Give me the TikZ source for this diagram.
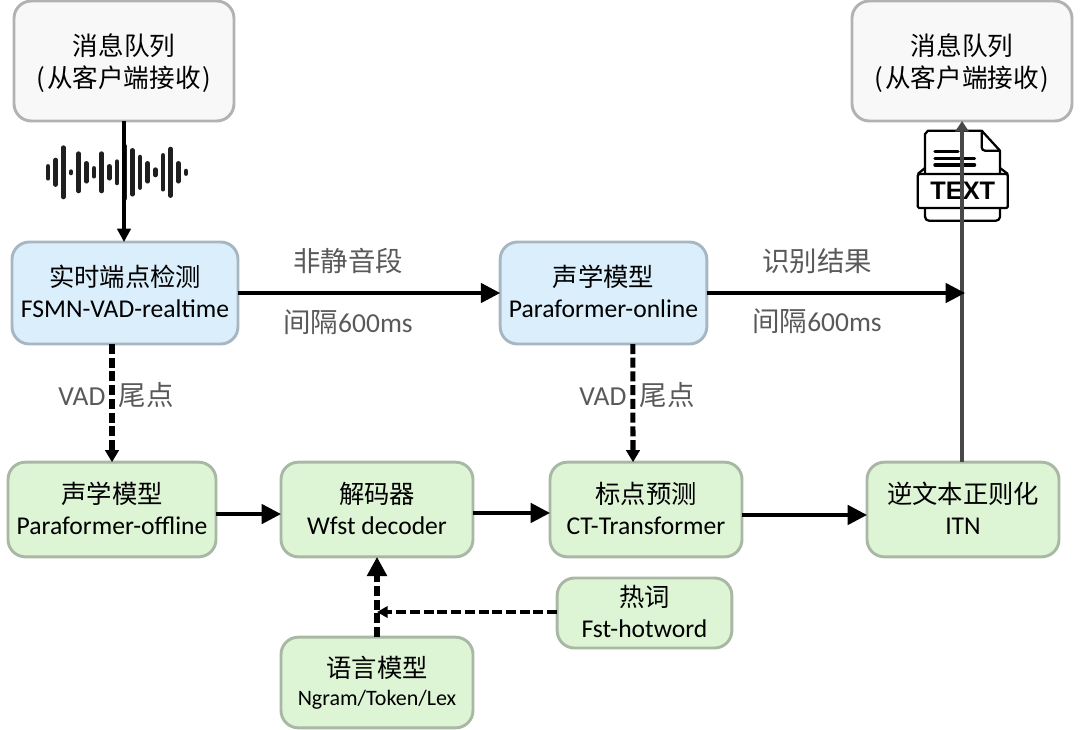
\documentclass[tikz,border=0pt]{standalone}
\usepackage{fontspec}
\setmainfont{Carlito}
\newfontfamily\cjkfont{Noto Sans CJK SC}
\newfontfamily\iconfont{Liberation Sans}
\usetikzlibrary{arrows.meta}
\newcommand{\zh}[1]{{\cjkfont #1}}
% second line of a box: a little extra depth lifts the Chinese line above it
\newcommand{\tname}[1]{\raisebox{0pt}[\height][\dimexpr\depth+2.25pt\relax]{\fontsize{19.2}{21}\selectfont #1}}
\definecolor{labelgray}{HTML}{595959}
\definecolor{queuefill}{HTML}{F8F8F8}
\definecolor{queueline}{HTML}{B2B2B2}
\definecolor{bluefill}{HTML}{DAEEFB}
\definecolor{blueline}{HTML}{A6B7C2}
\definecolor{greenfill}{HTML}{DDF4D5}
\definecolor{greenline}{HTML}{A9B8A5}
\definecolor{riser}{HTML}{484848}
\tikzset{
  x=0.75pt, y=-0.75pt,
  box/.style={draw, rounded corners=13pt, line width=2.2pt, inner sep=0pt, outer sep=0pt,
    align=center, font=\fontsize{19}{23.25}\selectfont, text=black},
  queue/.style={box, fill=queuefill, draw=queueline, minimum width=165pt, minimum height=90pt,
    font=\fontsize{19.2}{24}\selectfont},
  bluebox/.style={box, fill=bluefill, draw=blueline},
  greenbox/.style={box, fill=greenfill, draw=greenline},
  flow/.style={line width=2.7pt, draw=black, -{Triangle[length=14.5pt,width=14.5pt]}},
  dashflow/.style={flow, line width=3.8pt, dash pattern=on 7.5pt off 2.8pt},
  caption/.style={text=labelgray, inner sep=0pt, font=\fontsize{20.6}{24}\selectfont},
  iconline/.style={line width=1.7pt, draw=black, line join=round},
}
\begin{document}
\begin{tikzpicture}
\useasboundingbox (0,0) rectangle (1080,729);

% message queues
\node[queue] (src) at (124,61) {\rule{0pt}{19.8pt}\zh{消息队列}\\\zh{(\hspace{1.5pt}从客户端接收\hspace{1.5pt})}};
\node[queue] (dst) at (962,61) {\rule{0pt}{19.8pt}\zh{消息队列}\\\zh{(\hspace{1.5pt}从客户端接收\hspace{1.5pt})}};

% online path
\node[bluebox, minimum width=169.5pt, minimum height=76.5pt] (vad) at (125,293)
  {\zh{实时端点检测}\\\tname{FSMN-VAD-realtime}};
\node[bluebox, minimum width=155pt, minimum height=76.5pt] (online) at (603.5,293)
  {\zh{声学模型}\\\tname{Paraformer-online}};

% offline path
\node[greenbox, minimum width=156pt, minimum height=71pt] (offline) at (112,509.5)
  {\zh{声学模型}\\\tname{Paraformer-offline}};
\node[greenbox, minimum width=144pt, minimum height=71pt] (wfst) at (377,509.5)
  {\zh{解码器}\\\tname{Wfst decoder}};
\node[greenbox, minimum width=144pt, minimum height=71pt] (punc) at (646,509.5)
  {\zh{标点预测}\\\tname{CT-Transformer}};
\node[greenbox, minimum width=144pt, minimum height=71pt] (itn) at (963,509.5)
  {\zh{逆文本正则化}\\\tname{ITN}};
\node[greenbox, minimum width=131pt, minimum height=52.5pt] (hot) at (644.5,613)
  {\zh{热词}\\\tname{Fst-hotword}};
\node[greenbox, minimum width=144pt, minimum height=68pt, font=\fontsize{19}{21}\selectfont] (lang) at (377,682.5)
  {\zh{语言模型}\\{\fontsize{16.5}{18}\selectfont Ngram/Token/Lex}};

% audio waveform
\foreach \bx/\bh in {48/8, 55.7/14.3, 63.3/26.7, 71/2.7, 78.7/20.7, 86.3/11, 94/6,
    101.7/20.7, 109.3/8, 117/12.7, 124.7/28.3, 132.3/24, 140/17.3, 147.7/11, 155.3/4.7,
    163/19, 170.7/25.3, 178.3/11, 186/3.3}
  \draw[line width=3.4pt, line cap=round, draw=black!88] (\bx,172.3-\bh+2) -- (\bx,172.3+\bh-2);

% text document icon
\draw[iconline, fill=white] (925,176) -- (925,134) -- (928,130.7) -- (981.7,130.7) -- (1000,150.7) -- (1000,176) -- cycle;
\draw[iconline, rounded corners=2.5pt] (981.7,130.7) -- (981.7,150.7) -- (1000,150.7);
\draw[iconline, rounded corners=3pt] (925,205) -- (925,220.7) -- (1000,220.7) -- (1000,205);
\draw[iconline] (925,168) -- (917.7,174) (1000,168) -- (1008,174);
\draw[line width=2.6pt, line cap=round] (935,151.7) -- (958,151.7)
  (935,158.3) -- (974.5,158.3) (935,165) -- (974.5,165);
\node[iconline, fill=white, rounded corners=1pt, draw, minimum width=67.5pt, minimum height=25.5pt,
  inner sep=0pt, outer sep=0pt, font=\iconfont\bfseries\fontsize{19}{20}\selectfont] (doc) at (962.8,191) {TEXT};

% connectors
\coordinate (merge) at (965,293);
\coordinate (hotjoin) at (377,612);
\draw[line width=2.4pt, draw=black, -{Triangle[length=10pt,width=10pt]}] (src.south) -- (src.south |- vad.north);
\draw[line width=2.3pt, draw=riser, -{Triangle[length=8pt,width=10pt]}] (itn.north -| dst.south) -- (dst.south);
\draw[flow] (vad.east) -- (online.west);
\draw[flow] (online.east) -- (merge);
\draw[flow] ([yshift=-3.4pt]offline.east) -- ([yshift=-3.4pt]wfst.west);
\draw[flow] ([yshift=-2.6pt]wfst.east) -- ([yshift=-2.6pt]punc.west);
\draw[flow] ([yshift=-4.1pt]punc.east) -- ([yshift=-4.1pt]itn.west);
\draw[dashflow, -{Triangle[length=9pt,width=10pt]}] (offline.north |- vad.south) -- (offline.north);
\draw[dashflow, -{Triangle[length=9pt,width=10pt]}] ([xshift=22pt]online.south) -- ([xshift=-9.75pt]punc.north);
\draw[dashflow, -{Triangle[length=14.5pt,width=14.5pt]}] (lang.north) -- (wfst.south);
\draw[dashflow, line width=2.7pt, -{Triangle[length=8pt,width=8.5pt]}] (hot.west |- hotjoin) -- (hotjoin);

% labels along the connectors
\node[caption] (l1) at (348,261) {\zh{非静音段}};
\node[caption] (l2) at (348,322) {\zh{间隔}600ms};
\node[caption] (l3) at (817,261) {\zh{识别结果}};
\node[caption] (l4) at (817,321) {\zh{间隔}600ms};
\node[caption] (l5) at (116,395) {VAD\hspace{10pt}\zh{尾点}};
\node[caption] (l6) at (637,395) {VAD\hspace{10pt}\zh{尾点}};
\end{tikzpicture}
\end{document}
